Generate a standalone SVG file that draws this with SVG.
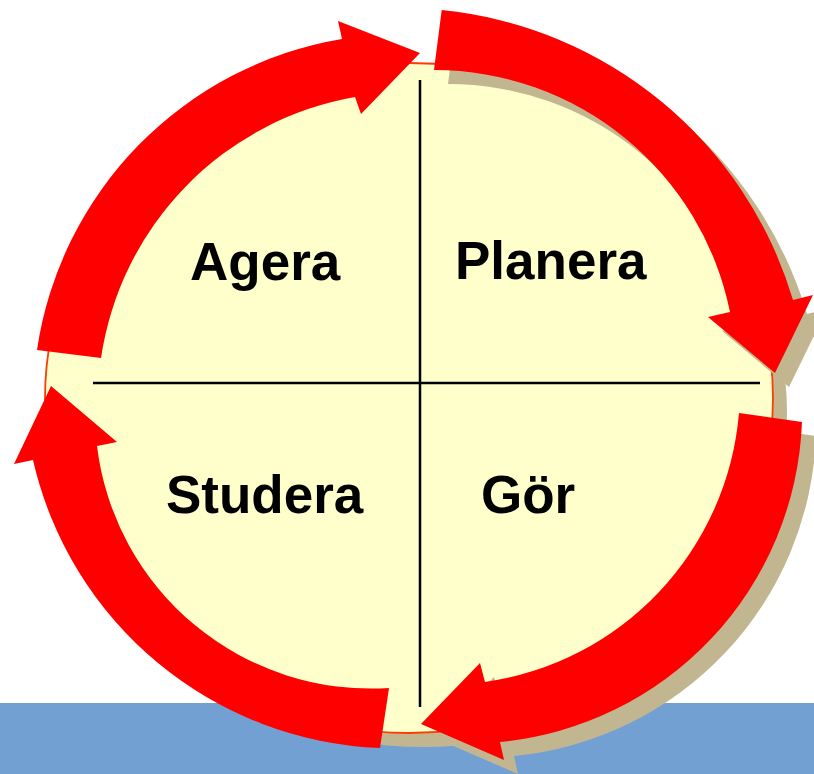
<svg xmlns="http://www.w3.org/2000/svg" width="814" height="774" viewBox="0 0 814 774">
<style>
.lbl{font-family:"Liberation Sans",Arial,sans-serif;font-weight:bold;font-size:53px;fill:#000}
.arrow{fill:#ff0000}
.shadow{fill:#c1b690}
.div{stroke:#000;stroke-width:2.5;fill:none}
</style>
<defs>
<path id="pPlanera" d="M441.7,10 A409,409 0 0 1 793,300 L813,295 L775,373 L708,317 L730,312 A302,302 0 0 0 434,70 Z"/>
<path id="pGor" d="M802,422 A334,334 0 0 1 500,742 L504,760 L421,724 L480,663 L485,682 A297,297 0 0 0 739,413 Z"/>
</defs>
<rect x="0" y="0" width="814" height="774" fill="#ffffff"/>
<rect id="band" x="0" y="703" width="814" height="71" fill="#73a0d2"/>
<g id="circle">
<ellipse cx="423" cy="412" rx="364" ry="335" class="shadow"/>
<ellipse cx="409" cy="398" rx="364" ry="335" fill="#ffffcc" stroke="#ff3c00" stroke-width="1.8"/>
</g>
<g id="shadows">
<use href="#pPlanera" class="shadow" transform="translate(14,14)"/>
<use href="#pGor" class="shadow" transform="translate(14,14)"/>
</g>
<g id="dividers">
<line x1="420" y1="80" x2="420" y2="707" class="div"/>
<line x1="93" y1="383" x2="760" y2="383" class="div"/>
</g>
<g id="connectors">
<use href="#pPlanera" class="arrow"/>
<use href="#pGor" class="arrow"/>
<path class="arrow" d="M380,748 A371,371 0 0 1 33,460 L14,464 L51,386 L117,442 L97,446 A276,276 0 0 0 389,688 Z"/>
<path class="arrow" d="M37,350 A370,370 0 0 1 342,39 L338,21 L420,53 L361,114 L355,97 A311,311 0 0 0 101,358 Z"/>
</g>
<g id="agera"><text class="lbl" x="190" y="280">Agera</text></g>
<g id="planera"><text class="lbl" x="455" y="279">Planera</text></g>
<g id="studera"><text class="lbl" x="166" y="513">Studera</text></g>
<g id="gor"><text class="lbl" x="481" y="513">Gör</text></g>
</svg>
